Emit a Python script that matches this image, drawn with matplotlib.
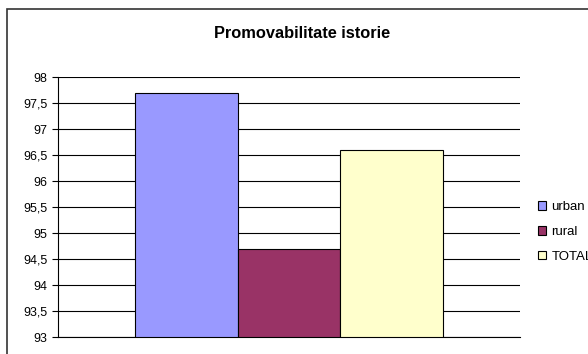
import matplotlib
matplotlib.use("Agg")
import matplotlib.pyplot as plt
from matplotlib.patches import Rectangle, Patch

plt.rcParams['font.family'] = ['Liberation Sans', 'DejaVu Sans']

series = ["urban", "rural", "TOTAL"]
values = [97.7, 94.7, 96.6]
colors = ["#9999FF", "#993366", "#FFFFCC"]
yticks = [93, 93.5, 94, 94.5, 95, 95.5, 96, 96.5, 97, 97.5, 98]
ytick_labels = ["93", "93,5", "94", "94,5", "95", "95,5", "96", "96,5", "97", "97,5", "98"]
title = "Promovabilitate istorie"

W, H = 588, 354
fig = plt.figure(figsize=(W / 100, H / 100), dpi=100)

# outer chart frame
fig.patches.append(Rectangle((7 / W, -0.1), 1.2, (H - 9) / H + 0.1, transform=fig.transFigure,
                             fill=False, edgecolor="#333333", linewidth=1.2))

left, right, top, bottom = 58, 520, 77, 337
ax = fig.add_axes([left / W, 1 - bottom / H, (right - left) / W, (bottom - top) / H])

bw = 102.5 / (right - left)
offsets = [-bw, 0, bw]
handles = []
for s, v, c, o in zip(series, values, colors, offsets):
    ax.bar(o, v - 93, bottom=93, width=bw, color=c, edgecolor="black", linewidth=0.8, zorder=3)
    handles.append(Patch(facecolor=c, edgecolor="black", linewidth=0.8, label=s))

ax.set_xlim(-0.5, 0.5)
ax.set_ylim(93, 98)
ax.set_yticks(yticks)
ax.set_yticklabels(ytick_labels, fontsize=9)
ax.yaxis.grid(True, color="black", linewidth=0.8, zorder=0)
ax.set_axisbelow(True)
ax.tick_params(axis="y", length=4, width=0.8, pad=3.5, color="black")
ax.tick_params(axis="x", bottom=False, labelbottom=False)
for sp in ["right", "top"]:
    ax.spines[sp].set_visible(False)
ax.spines["bottom"].set_linewidth(0.8)
ax.spines["left"].set_linewidth(0.8)

fig.text(302 / W, 1 - 33 / H, title, ha="center", va="center", fontsize=11.8, fontweight="bold")

leg = fig.legend(handles=handles, loc="center left", bbox_to_anchor=(531 / W, 1 - 232 / H),
                 frameon=False, fontsize=9.5, handlelength=0.65, handleheight=0.65,
                 handletextpad=0.4, labelspacing=0.95, borderpad=0)

fig.savefig("out.png", dpi=100)
